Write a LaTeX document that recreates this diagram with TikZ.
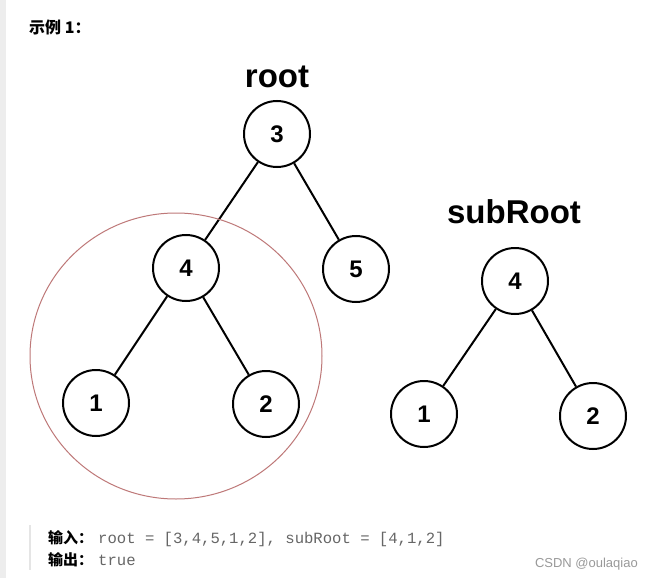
\documentclass[tikz,border=0pt]{standalone}
\usepackage{fontspec}
\setmainfont{Liberation Sans}
\newfontfamily\cjk{Noto Sans CJK SC}
\newfontfamily\code{Liberation Mono}
\definecolor{ringred}{RGB}{190,120,120}
\begin{document}
\begin{tikzpicture}
      [x=1pt, y=-1pt,
       tree/.style={circle, draw, line width=2pt, minimum size=66pt, inner sep=0pt,
                    font=\fontsize{24}{24}\selectfont\bfseries},
       title/.style={anchor=base, inner sep=0pt, font=\fontsize{33}{33}\selectfont\bfseries},
       edge/.style={line width=2pt},
       txt/.style={anchor=base west, inner sep=0pt}]
      \useasboundingbox (0, 0) rectangle (651, 578);
      \fill[white] (0, 0) rectangle (651, 578);
      \fill[black!7] (0, 0) rectangle (6, 578);
      \fill[black!10] (29, 525) rectangle (31, 570);
      \node[txt] (0) at (29, 34) {\cjk\fontsize{16}{16}\selectfont\bfseries 示例 1：};
      % root
      \node[title] (r) at (277, 88) {root};
      \node[tree](1) at (277, 134) {3};
      \node[tree](2) at (186, 268) {4};
      \node[tree](3) at (356, 269) {5};
      \node[tree](4) at (96, 403) {1};
      \node[tree](5) at (266, 404) {2};
      \draw[edge](1) -- (2);
      \draw[edge](1) -- (3);
      \draw[edge](2) -- (4);
      \draw[edge](2) -- (5);
      \draw[ringred, line width=1pt] (176, 356) ellipse [x radius=146pt, y radius=143pt];
      % subRoot
      \node[title] (s) at (514, 223) {subRoot};
      \node[tree](6) at (515, 281) {4};
      \node[tree](7) at (424, 414) {1};
      \node[tree](8) at (593, 416) {2};
      \draw[edge](6) -- (7);
      \draw[edge](6) -- (8);
      % example text
      \node[txt] (9) at (48, 543) {\cjk\fontsize{15}{15}\selectfont\bfseries 输入：};
      \node[txt, text=black!60] (10) at (98, 543)
        {\code\fontsize{15.6}{15.6}\selectfont root = [3,4,5,1,2], subRoot = [4,1,2]};
      \node[txt] (11) at (48, 565) {\cjk\fontsize{15}{15}\selectfont\bfseries 输出：};
      \node[txt, text=black!60] (12) at (98, 565) {\code\fontsize{15.6}{15.6}\selectfont true};
      \node[anchor=base east, inner sep=0pt, text=black!40, font=\fontsize{13}{13}\selectfont]
        (13) at (638, 567) {CSDN @oulaqiao};
  \end{tikzpicture}
\end{document}
